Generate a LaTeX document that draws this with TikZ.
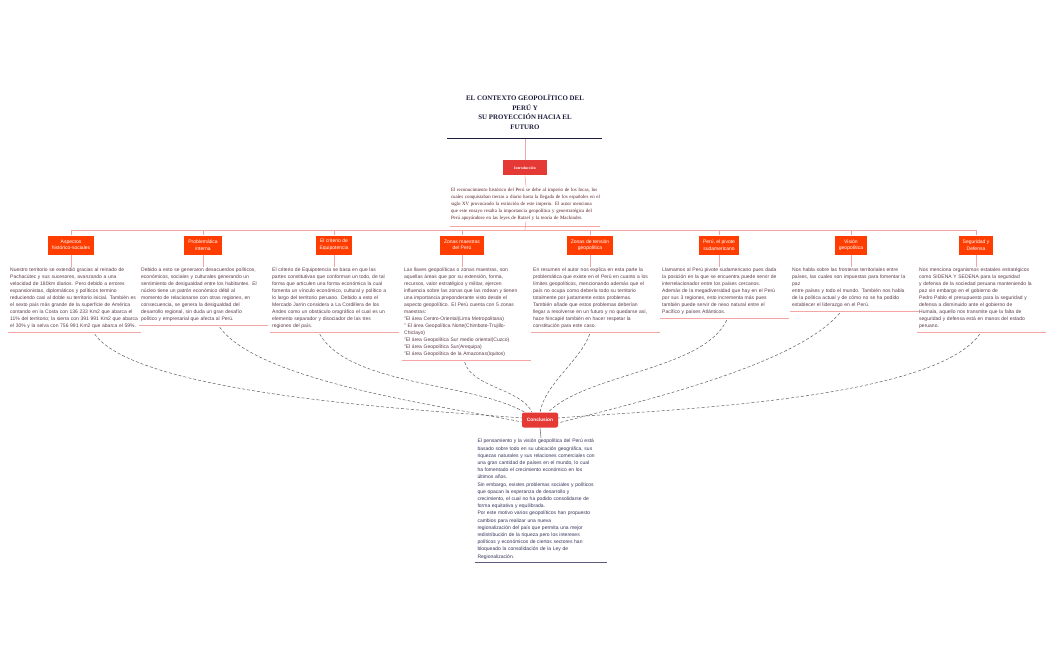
\documentclass[tikz,border=0pt]{standalone}
\usepackage{fontspec}
\setmainfont{Liberation Serif}
\setsansfont{Liberation Sans}
\usetikzlibrary{positioning,calc}
\definecolor{titleNavy}{HTML}{1C1C3C}
\definecolor{introRed}{HTML}{E53935}
\definecolor{boxOrange}{HTML}{FF3D00}
\definecolor{linkPink}{HTML}{F6A5A5}
\definecolor{introText}{HTML}{5A1E24}
\definecolor{bodyText}{HTML}{5B3A4B}
\definecolor{conclText}{HTML}{34345A}
\definecolor{dashGrey}{HTML}{5E5E5E}

\begin{document}
\begin{tikzpicture}[
  x=1pt, y=-1pt,
  link/.style={draw=linkPink, line width=0.6pt},
  txtrule/.style={draw=linkPink, line width=0.7pt},
  topbox/.style={fill=boxOrange, text=white, align=center, inner xsep=4pt,
                 minimum height=19pt, font=\sffamily\fontsize{5}{6.6}\selectfont},
  bodytxt/.style={anchor=north west, text width=125pt, inner sep=1pt, align=left,
                  text=bodyText, font=\sffamily\fontsize{5}{7}\selectfont},
  dashlink/.style={draw=dashGrey, dash pattern=on 3pt off 2pt, line width=0.5pt},
]
\useasboundingbox (0,0) rectangle (1050,650);

% --- title and introduction
\node[align=center, text=titleNavy, font=\bfseries\fontsize{6.9}{9.8}\selectfont]
  (title) at (525,112) {EL CONTEXTO GEOPOLÍTICO DEL\\PERÚ Y\\SU PROYECCIÓN HACIA EL\\FUTURO};
\coordinate (ruleL) at (447,139);
\coordinate (ruleR) at (602,139);
\coordinate (ruleM) at (525,139);
\draw[titleNavy, line width=1pt] (ruleL) -- (ruleR);

\node[fill=introRed, text=white, minimum width=44pt, minimum height=15pt, inner sep=1pt,
      font=\bfseries\fontsize{3.9}{4.5}\selectfont] (intro) at (525,168) {Introducción};
\draw[link] (ruleM) -- (intro.north);

\node[anchor=north, text width=150pt, inner sep=1pt, align=left, text=introText,
      font=\fontsize{4.9}{6.9}\selectfont] (introtxt) at (526,187)
  {El reconocimiento histórico del Perú se debe al imperio de los Incas, los\\
   cuales conquistaban tierras a diario hasta la llegada de los españoles en el\\
   siglo XV provocando la extinción de este imperio. El autor menciona\\
   que este ensayo resalta la importancia geopolítica y geoestratégica del\\
   Perú apoyándose en las leyes de Ratzel y la teoría de Mackinder.};
\draw[txtrule] (450,226) -- (600,226);
\draw[link] (intro.south) -- (introtxt.north);

% --- the eight topic boxes
\node[topbox] (b1) at (71,245)  {Aspectos\\histórico-sociales};
\node[topbox] (b2) at (203,245) {Problemática\\interna};
\node[topbox] (b3) at (334,245) {El criterio de\\Equipotencia};
\node[topbox] (b4) at (462,245) {Zonas maestras\\del Perú};
\node[topbox] (b5) at (590,245) {Zonas de tensión\\geopolítica};
\node[topbox] (b6) at (719,245) {Perú, el pivote\\sudamericano};
\node[topbox] (b7) at (851,245) {Visión\\geopolítica};
\node[topbox] (b8) at (976,245) {Seguridad y\\Defensa};

\coordinate (bus) at (525,230);
\draw[link] (introtxt.south) -- (bus);
\draw[link] (b1.north |- bus) -- (b8.north |- bus);
\foreach \n in {1,...,8}
  \draw[link] (b\n.north |- bus) -- (b\n.north);

% --- texts under the boxes
\node[bodytxt, text width=129pt] (t1) at (9,267)
  {Nuestro territorio se extendió gracias al reinado de\\
   Pachacútec y sus sucesores, avanzando a una\\
   velocidad de 180km diarios. Pero debido a errores\\
   expansionistas, diplomáticos y políticos termino\\
   reduciendo casi al doble su territorio inicial. También es\\
   el sexto país más grande de la superficie de América\\
   contando en la Costa con 136 233 Km2 que abarca el\\
   11\% del territorio; la sierra con 391 991 Km2 que abarca\\
   el 30\% y la selva con 756 991 Km2 que abarca el 59\%.};
\node[bodytxt] (t2) at (140,267)
  {Debido a esto se generaron desacuerdos políticos,\\
   económicos, sociales y culturales generando un\\
   sentimiento de desigualdad entre los habitantes. El\\
   núcleo tiene un patrón económico débil al\\
   momento de relacionarse con otras regiones, en\\
   consecuencia, se genera la desigualdad del\\
   desarrollo regional, sin duda un gran desafío\\
   político y empresarial que afecta al Perú.};
\node[bodytxt] (t3) at (271,267)
  {El criterio de Equipotencia se basa en que las\\
   partes constitutivas que conforman un todo, de tal\\
   forma que articulen una forma económica la cual\\
   fomenta un vínculo económico, cultural y político a\\
   lo largo del territorio peruano. Debido a esto el\\
   Mercado Jarrin considera a La Cordillera de los\\
   Andes como un obstáculo orográfico el cual es un\\
   elemento separador y disociador de las tres\\
   regiones del país.};
\node[bodytxt] (t4) at (403,267)
  {Las llaves geopolíticas o zonas maestras, son\\
   aquellas áreas que por su extensión, forma,\\
   recursos, valor estratégico y militar, ejercen\\
   influencia sobre las zonas que las rodean y tienen\\
   una importancia preponderante visto desde el\\
   aspecto geopolítico. El Perú cuenta con 5 zonas\\
   maestras:\\
   "El área Centro-Oriental(Lima Metropolitana)\\
   " El área Geopolítica Norte(Chimbote-Trujillo-\\
   Chiclayo)\\
   "El área Geopolítica Sur medio oriental(Cuzco)\\
   "El área Geopolítica Sur(Arequipa)\\
   "El área Geopolítica de la Amazonas(Iquitos)};
\node[bodytxt] (t5) at (532,267)
  {En resumen el autor nos explica en esta parte la\\
   problemática que existe en el Perú en cuanto a los\\
   límites geopolíticos, mencionando además que el\\
   país no ocupa como debería todo su territorio\\
   totalmente por justamente estos problemas.\\
   También añade que estos problemas deberían\\
   llegar a resolverse en un futuro y no quedarse así,\\
   hace hincapié también en hacer respetar la\\
   constitución para este caso.};
\node[bodytxt] (t6) at (661,267)
  {Llamamos al Perú pivote sudamericano pues dada\\
   la posición en la que se encuentra puede servir de\\
   interrelacionador entre los países cercanos.\\
   Además de la megadiversidad que hay en el Perú\\
   por sus 3 regiones, esto incrementa más pues\\
   también puede servir de nexo natural entre el\\
   Pacífico y países Atlánticos.};
\node[bodytxt] (t7) at (791,267)
  {Nos habla sobre las fronteras territoriales entre\\
   países, las cuales son impuestas para fomentar la\\
   paz\\
   entre países y todo el mundo. También nos habla\\
   de la política actual y de cómo no se ha podido\\
   establecer el liderazgo en el Perú.};
\node[bodytxt] (t8) at (918,267)
  {Nos menciona organismos estatales estratégicos\\
   como SIDENA Y SEDENA para la seguridad\\
   y defensa de la sociedad peruana manteniendo la\\
   paz sin embargo en el gobierno de\\
   Pedro Pablo el presupuesto para la seguridad y\\
   defensa a disminuido ante el gobierno de\\
   Humala, aquello nos transmite que la falta de\\
   seguridad y defensa está en manos del estado\\
   peruano.};

\foreach \n in {1,...,8} {
  \draw[link] (b\n.south) -- (b\n.south |- t\n.north);
  \draw[txtrule] ([xshift=-1pt, yshift=-2pt]t\n.south west) -- ([xshift=1pt, yshift=-2pt]t\n.south east);
}

% --- conclusion
\node[fill=introRed, text=white, rounded corners=2pt, minimum width=36pt,
      minimum height=15pt, inner sep=1pt, font=\sffamily\bfseries\fontsize{4.8}{5.5}\selectfont]
  (concl) at (540,420) {Conclusion};

\node[anchor=north, text width=127pt, inner sep=1pt, align=left, text=conclText,
      font=\sffamily\fontsize{5}{7.2}\selectfont] (concltxt) at (541,438)
  {El pensamiento y la visión geopolítica del Perú está\\
   basado sobre todo en su ubicación geográfica, sus\\
   riquezas naturales y sus relaciones comerciales con\\
   una gran cantidad de países en el mundo, lo cual\\
   ha fomentado el crecimiento económico en los\\
   últimos años.\\
   Sin embargo, existes problemas sociales y políticos\\
   que opacan la esperanza de desarrollo y\\
   crecimiento, el cual no ha podido consolidarse de\\
   forma equitativa y equilibrada.\\
   Por este motivo varios geopolíticos han propuesto\\
   cambios para realizar una nueva\\
   regionalización del país que permita una mejor\\
   redistribución de la riqueza pero los intereses\\
   políticos y económicos de ciertos sectores han\\
   bloqueado la consolidación de la Ley de\\
   Regionalización.};
\draw[draw=conclText!70, line width=0.6pt] (concl.south) -- (concltxt.north);
\draw[draw=conclText!80, line width=0.7pt]
  ([xshift=-1pt, yshift=-2pt]concltxt.south west) -- ([xshift=1pt, yshift=-2pt]concltxt.south east);

% --- dashed links from every text to the conclusion
\draw[dashlink] ([xshift=20pt, yshift=-4pt]t1.south) to[out=-55, in=175, looseness=0.45] ([yshift=2pt]concl.west);
\draw[dashlink] ([xshift=16pt, yshift=-4pt]t2.south) to[out=-55, in=168, looseness=0.55] ([yshift=-2pt]concl.west);
\draw[dashlink] ([xshift=-15pt, yshift=-4pt]t3.south) to[out=-60, in=150, looseness=0.7] ([xshift=3pt]concl.north west);
\draw[dashlink] ([xshift=-2pt, yshift=-4pt]t4.south) to[out=-75, in=115, looseness=0.8] ([xshift=-8pt]concl.north);
\draw[dashlink] ([xshift=-6pt, yshift=-4pt]t5.south) to[out=-110, in=80, looseness=0.8] ([xshift=0pt]concl.north);
\draw[dashlink] ([xshift=2pt, yshift=-4pt]t6.south) to[out=-115, in=45, looseness=0.7] ([xshift=8pt]concl.north);
\draw[dashlink] ([xshift=-15pt, yshift=-4pt]t7.south) to[out=-130, in=15, looseness=0.6] ([yshift=-3pt]concl.east);
\draw[dashlink] ([xshift=-2pt, yshift=-4pt]t8.south) to[out=-125, in=5, looseness=0.5] ([yshift=2pt]concl.east);
\end{tikzpicture}
\end{document}
